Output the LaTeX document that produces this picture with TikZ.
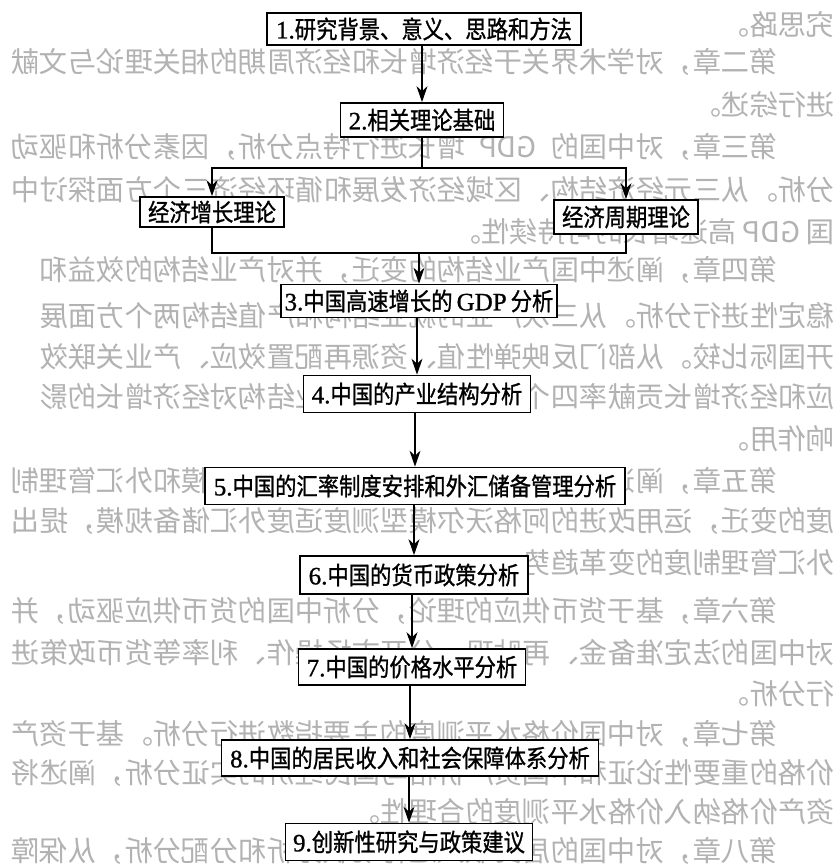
\documentclass[tikz,border=0pt]{standalone}
\usepackage{fontspec}
\usetikzlibrary{arrows.meta}
\newfontfamily\cjkbox[FakeStretch=0.87,FakeBold=1]{Noto Sans CJK SC}
\newfontfamily\cjkbg{Noto Sans CJK SC}
\newfontfamily\serifnum[FakeBold=1]{Liberation Serif}
\newcommand\bxfont{\fontsize{24.5pt}{24.5pt}\selectfont\cjkbox}
\newcommand\bgfont{\fontsize{28.4pt}{28.4pt}\selectfont\cjkbg}
\newcommand\bxnum[1]{{\serifnum\fontsize{25pt}{25pt}\selectfont #1}}
\XeTeXlinebreaklocale "zh"
\XeTeXlinebreakskip=0pt plus 4pt
\tikzset{
  fbox/.style={draw=black, line width=1.7pt, fill=white, inner sep=0pt, font=\bxfont, text=black},
  conn/.style={line width=1.1pt, draw=black},
  arr/.style={conn, -{Stealth[length=16pt,width=11pt,inset=5pt]}},
  bgtext/.style={font=\bgfont, text=black!30, anchor=west, inner sep=0pt, transform shape},
}
\newcommand\fullline[2]{\node[bgtext] at (1,#1) {\makebox[824pt][s]{#2}};}
\newcommand\firstline[2]{\node[bgtext] at (58,#1) {\makebox[767pt][s]{#2}};}
\newcommand\shortline[2]{\node[bgtext] at (1,#1) {#2};}
\begin{document}
\begin{tikzpicture}[x=1pt,y=-1pt]
\useasboundingbox (0,0) rectangle (836,866);
\fill[white] (0,0) rectangle (836,866);
% mirrored show-through text of the reverse page
\begin{scope}[xshift=836pt, xscale=-1]
\shortline{25}{究思路。}
\firstline{62}{第二章，对学术界关于经济增长和经济周期的相关理论与文献}
\shortline{105}{进行综述。}
\firstline{147}{第三章，对中国的 GDP 增长进行特点分析，因素分析和驱动}
\fullline{190}{分析。从三元经济结构、区域经济发展和循环经济三个方面探讨中}
\shortline{232}{国 GDP 高速增长的可持续性。}
\firstline{270}{第四章，阐述中国产业结构的变迁，并对产业结构的效益和}
\fullline{316}{稳定性进行分析。从三次产业的就业结构和产值结构两个方面展}
\fullline{357}{开国际比较。从部门反映弹性值、资源再配置效应、产业关联效}
\fullline{397}{应和经济增长贡献率四个方面探讨中国产业结构对经济增长的影}
\shortline{439}{响作用。}
\firstline{481}{第五章，阐述中国汇率制度安排和外汇储备规模和外汇管理制}
\fullline{521}{度的变迁，运用改进的阿格沃尔模型测度适度外汇储备规模，提出}
\shortline{563}{外汇管理制度的变革趋势。}
\firstline{611}{第六章，基于货币供应的理论，分析中国的货币供应驱动，并}
\fullline{653}{对中国的法定准备金、再贴现、公开市场操作、利率等货币政策进}
\shortline{694}{行分析。}
\firstline{734}{第七章，对中国价格水平测度的主要指数进行分析。基于资产}
\fullline{773}{价格的重要性论证和中国资产价格与国民经济的实证分析，阐述将}
\shortline{812}{资产价格纳入价格水平测度的合理性。}
\firstline{851}{第八章，对中国的居民收入进行现状分析和分配分析，从保障}
\end{scope}
% flowchart
\node[fbox, minimum width=314, minimum height=32] (b1) at (424,29) {\bxnum{1.}研究背景、意义、思路和方法};
\node[fbox, minimum width=163, minimum height=34] (b2) at (422,120) {\bxnum{2.}相关理论基础};
\node[fbox, minimum width=144, minimum height=30] (gL) at (212,212) {经济增长理论};
\node[fbox, minimum width=144, minimum height=34] (gR) at (626,217) {经济周期理论};
\node[fbox, minimum width=276, minimum height=33] (b3) at (419,301) {\bxnum{3.}中国高速增长的\,\bxnum{GDP}\,分析};
\node[fbox, minimum width=227, minimum height=37] (b4) at (417,394) {\bxnum{4.}中国的产业结构分析};
\node[fbox, minimum width=420, minimum height=37] (b5) at (415,486) {\bxnum{5.}中国的汇率制度安排和外汇储备管理分析};
\node[fbox, minimum width=228, minimum height=38] (b6) at (414,575) {\bxnum{6.}中国的货币政策分析};
\node[fbox, minimum width=227, minimum height=36] (b7) at (412,667) {\bxnum{7.}中国的价格水平分析};
\node[fbox, minimum width=377, minimum height=36] (b8) at (410,758) {\bxnum{8.}中国的居民收入和社会保障体系分析};
\node[fbox, minimum width=247, minimum height=37] (b9) at (409,842) {\bxnum{9.}创新性研究与政策建议};
\coordinate (sp) at (421,168);
\coordinate (jn) at (419,253);
\draw[arr] (b1.south -| b2.north) -- (b2.north);
\draw[conn] (b2.south) -- (b2.south |- sp);
\draw[arr] (b2.south |- sp) -| (gL.north);
\draw[arr] (b2.south |- sp) -| (gR.north);
\draw[conn] (gL.south) |- (jn) -| (gR.south);
\draw[arr] (jn) -- (jn |- b3.north);
\draw[arr] (b3.south -| b4.north) -- (b4.north);
\draw[arr] (b4.south -| b5.north) -- (b5.north);
\draw[arr] (b5.south -| b6.north) -- (b6.north);
\draw[arr] (b6.south -| b7.north) -- (b7.north);
\draw[arr] (b7.south -| b8.north) -- (b8.north);
\draw[arr] (b8.south -| b9.north) -- (b9.north);
\end{tikzpicture}
\end{document}
